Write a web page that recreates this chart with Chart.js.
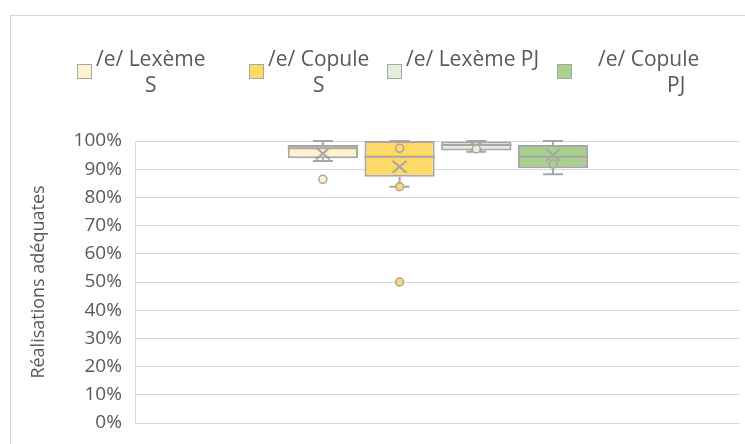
<!DOCTYPE html>
<html>
<head>
<meta charset="utf-8">
<script src="https://cdn.jsdelivr.net/npm/chart.js@4.4.1/dist/chart.umd.min.js"></script>
<style>
  html, body { margin: 0; padding: 0; background: #fff; }
  #wrap { position: relative; width: 745px; height: 444px; overflow: hidden; font-family: 'Open Sans', sans-serif; color: #595959; }
  #frame { position: absolute; left: 10px; top: 15px; width: 800px; height: 500px; border: 1px solid #d9d9d9; }
  #chart { position: absolute; left: 0; top: 0; }
  .item { position: absolute; top: 45px; display: flex; align-items: center; }
  .swatch { width: 15px; height: 15px; border: 1px solid #a6a6a6; box-sizing: border-box; }
  .lbl { font-size: 21px; line-height: 26px; white-space: pre; }
  .lbl div { text-align: center; }
</style>
</head>
<body>
<div id="wrap">
  <div id="frame"></div>
  <canvas id="chart" width="745" height="444"></canvas>
  <div id="legend"></div>
</div>
<script>
    // Box plot data (one box per series)
    const seriesNames = [['/e/ Lexème', 'S'], ['/e/ Copule', 'S'], ['/e/ Lexème PJ', ' '], ['/e/ Copule', 'PJ']];
    const minValues = [0.929, 0.838, 0.962, 0.882];
    const q1Values = [0.939, 0.873, 0.966, 0.903];
    const medianValues = [0.974, 0.944, 0.986, 0.944];
    const q3Values = [0.986, 1.0, 0.998, 0.986];
    const maxValues = [1.0, 1.0, 1.0, 1.0];
    const meanValues = [0.956, 0.909, 0.980, 0.950];
    const pointValues = [[0.864], [0.974, 0.838, 0.5], [0.972], [0.918]];

    const fillColors = ['#fff2cc', '#ffd966', '#e2efda', '#a9d08e'];
    const lineColor = '#a6a6a6';

    // legend (html, so the two-line labels can sit like in Excel)
    const legendLeft = [77, 249, 387, 557];
    const textGap = [4, 4, 4, 26];
    const secondLineOffset = [null, null, null, 69];
    const legendEl = document.getElementById('legend');
    seriesNames.forEach((name, i) => {
        const item = document.createElement('div');
        item.className = 'item';
        item.style.left = legendLeft[i] + 'px';
        const sw = document.createElement('div');
        sw.className = 'swatch';
        sw.style.background = fillColors[i];
        sw.style.marginRight = textGap[i] + 'px';
        const lbl = document.createElement('div');
        lbl.className = 'lbl';
        name.forEach((line, j) => {
            const d = document.createElement('div');
            d.textContent = line;
            if (j === 1 && secondLineOffset[i] !== null) {
                d.style.textAlign = 'left';
                d.style.paddingLeft = secondLineOffset[i] + 'px';
            }
            lbl.appendChild(d);
        });
        item.appendChild(sw);
        item.appendChild(lbl);
        legendEl.appendChild(item);
    });

    // whiskers, median, mean and points drawn on top of the floating bars
    const boxExtras = {
        id: 'boxExtras',
        afterDatasetsDraw(chart) {
            const ctx = chart.ctx;
            const yScale = chart.scales.y;
            const px = v => yScale.getPixelForValue(v);
            chart.data.datasets.forEach((ds, i) => {
                const bar = chart.getDatasetMeta(i).data[0];
                const cx = bar.x;
                const half = bar.width / 2;
                const cap = 10;
                ctx.save();
                ctx.strokeStyle = lineColor;
                ctx.lineWidth = 2;
                ctx.beginPath();
                // upper whisker
                ctx.moveTo(cx, px(q3Values[i]));
                ctx.lineTo(cx, px(maxValues[i]));
                ctx.moveTo(cx - cap, px(maxValues[i]));
                ctx.lineTo(cx + cap, px(maxValues[i]));
                // lower whisker
                ctx.moveTo(cx, px(q1Values[i]));
                ctx.lineTo(cx, px(minValues[i]));
                ctx.moveTo(cx - cap, px(minValues[i]));
                ctx.lineTo(cx + cap, px(minValues[i]));
                // median
                ctx.moveTo(cx - half, px(medianValues[i]));
                ctx.lineTo(cx + half, px(medianValues[i]));
                // mean marker (x)
                const my = px(meanValues[i]);
                ctx.moveTo(cx - 7, my - 6);
                ctx.lineTo(cx + 7, my + 6);
                ctx.moveTo(cx + 7, my - 6);
                ctx.lineTo(cx - 7, my + 6);
                ctx.stroke();
                // points
                ctx.lineWidth = 1.5;
                pointValues[i].forEach(v => {
                    ctx.beginPath();
                    ctx.arc(cx, px(v), 4, 0, Math.PI * 2);
                    ctx.fillStyle = fillColors[i];
                    ctx.fill();
                    ctx.stroke();
                });
                ctx.restore();
            });
        }
    };

    const ctx = document.getElementById('chart').getContext('2d');
    new Chart(ctx, {
        type: 'bar',
        data: {
            labels: [''],
            datasets: seriesNames.map((name, i) => ({
                label: name.join(' '),
                data: [[q1Values[i], q3Values[i]]],
                backgroundColor: fillColors[i],
                borderColor: lineColor,
                borderWidth: 2,
                borderSkipped: false,
                categoryPercentage: 0.508,
                barPercentage: 0.915
            }))
        },
        options: {
            responsive: false,
            animation: false,
            layout: {
                padding: { left: 28, top: 141, right: 5, bottom: 21 }
            },
            scales: {
                x: {
                    display: false
                },
                y: {
                    min: 0,
                    max: 1,
                    ticks: {
                        stepSize: 0.1,
                        padding: 8,
                        color: '#595959',
                        font: { family: 'Open Sans', size: 19 },
                        callback: v => Math.round(v * 100) + '%'
                    },
                    grid: { color: '#d9d9d9', lineWidth: 1, drawTicks: true, tickLength: 6, tickColor: 'rgba(0,0,0,0)' },
                    border: { display: true, color: '#d9d9d9' },
                    title: {
                        display: true,
                        text: 'Réalisations adéquates',
                        color: '#595959',
                        font: { family: 'Open Sans', size: 18 },
                        padding: { top: 0, bottom: 16 }
                    }
                }
            },
            plugins: {
                legend: { display: false },
                tooltip: { enabled: false }
            }
        },
        plugins: [boxExtras]
    });
</script>
</body>
</html>
